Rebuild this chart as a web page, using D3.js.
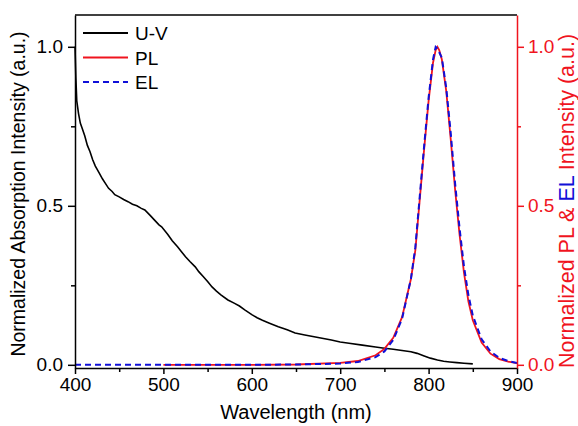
<!DOCTYPE html>
<html lang="en">
<head>
<meta charset="utf-8">
<title>Absorption, PL and EL spectra</title>
<script src="https://cdnjs.cloudflare.com/ajax/libs/d3/7.8.5/d3.min.js"></script>
<style>
  body { margin: 0; background: #fff; }
  text { font-family: "Liberation Sans", Arial, sans-serif; }
</style>
</head>
<body>
<svg id="chart" width="578" height="426"></svg>
<script>
// U-V absorption
var uvNm = [400,401,402,404,406,408,411,414,417,420,423,427,431,434,438,442,445,450,455,460,465,470,475,479,485,490,495,498,505,510,516,520,525,530,536,540,545,550,555,560,565,573,580,586,592,600,606,612,620,630,640,649,660,675,690,700,710,725,740,748,760,770,780,787,795,802,810,817,824,832,840,850];
var uvVal = [1.0,0.90,0.83,0.79,0.76,0.745,0.72,0.69,0.67,0.645,0.625,0.605,0.585,0.572,0.555,0.545,0.535,0.528,0.52,0.513,0.505,0.5,0.492,0.487,0.47,0.455,0.44,0.434,0.41,0.39,0.371,0.357,0.34,0.325,0.308,0.293,0.278,0.262,0.245,0.232,0.22,0.204,0.194,0.185,0.173,0.158,0.148,0.14,0.131,0.12,0.11,0.10,0.094,0.086,0.078,0.072,0.068,0.062,0.056,0.053,0.049,0.045,0.041,0.036,0.028,0.021,0.015,0.011,0.009,0.007,0.005,0.003];

// PL
var plNm = [500,600,650,700,720,740,750,760,770,780,785,790,795,800,805,808,810,812,815,820,825,830,835,840,845,850,860,870,880,890,900];
var plVal = [0,0,0.001,0.006,0.012,0.03,0.05,0.085,0.15,0.27,0.36,0.52,0.68,0.83,0.95,0.99,1.0,0.99,0.96,0.86,0.71,0.55,0.41,0.29,0.2,0.14,0.07,0.035,0.018,0.01,0.005];

// EL
var elNm = [400,500,600,650,700,720,740,750,760,770,780,785,790,795,800,805,808,810,815,820,825,830,835,840,845,850,860,870,880,890,900];
var elVal = [0,0,0,0.001,0.004,0.009,0.024,0.042,0.078,0.145,0.27,0.37,0.53,0.69,0.84,0.96,1.0,0.995,0.965,0.87,0.73,0.57,0.43,0.31,0.22,0.155,0.08,0.042,0.022,0.012,0.006];

var xTicks = [400,500,600,700,800,900];
var xMinor = [450,550,650,750,850];
var yTicks = [0.0,0.5,1.0];
var yMinor = [0.25,0.75];

var legendNames = ["U-V","PL","EL"];
var RED = "#f0141e", BLUE = "#1010d8";

var svg = d3.select("#chart");
var L = 75, R = 517, T = 15, B = 368;

var x = d3.scaleLinear().domain([400,900]).range([L,R]);
var y = d3.scaleLinear().domain([-0.01,1.1]).range([B,T]);

function pts(nm, v) { return nm.map(function(d,i){ return [d, v[i]]; }); }
var line = d3.line().x(function(d){ return x(d[0]); }).y(function(d){ return y(d[1]); });

// curves
svg.append("path").attr("d", line(pts(uvNm, uvVal)))
  .attr("fill","none").attr("stroke","#000").attr("stroke-width",1.6);
svg.append("path").attr("d", line(pts(plNm, plVal)))
  .attr("fill","none").attr("stroke",RED).attr("stroke-width",1.8);
svg.append("path").attr("d", line(pts(elNm, elVal)))
  .attr("fill","none").attr("stroke",BLUE).attr("stroke-width",2)
  .attr("stroke-dasharray","6,4");

// frame
svg.append("line").attr("x1",L).attr("x2",R).attr("y1",T).attr("y2",T)
  .attr("stroke","#000").attr("stroke-width",1.5);

function styleAxis(g, color, fs) {
  g.selectAll("path").attr("stroke",color).attr("stroke-width",1.5);
  g.selectAll("line").attr("stroke",color).attr("stroke-width",1.5);
  g.selectAll("text").attr("fill",color).style("font-size",fs)
    .style("font-family","'Liberation Sans', Arial, sans-serif");
}

// x axis
var gx = svg.append("g").attr("transform","translate(0,"+B+")")
  .call(d3.axisBottom(x).tickValues(xTicks).tickSize(6).tickSizeOuter(0).tickPadding(4).tickFormat(d3.format("d")));
styleAxis(gx,"#000","19px");
var gxm = svg.append("g").attr("transform","translate(0,"+B+")")
  .call(d3.axisBottom(x).tickValues(xMinor).tickSize(4).tickFormat(""));
gxm.select("path").remove();
styleAxis(gxm,"#000","19px");

// left axis
var gy = svg.append("g").attr("transform","translate("+L+",0)")
  .call(d3.axisLeft(y).tickValues(yTicks).tickSize(7).tickSizeOuter(0).tickPadding(5).tickFormat(d3.format(".1f")));
styleAxis(gy,"#000","19px");
var gym = svg.append("g").attr("transform","translate("+L+",0)")
  .call(d3.axisLeft(y).tickValues(yMinor).tickSize(4).tickFormat(""));
gym.select("path").remove();
styleAxis(gym,"#000","19px");

// right axis
var gr = svg.append("g").attr("transform","translate("+R+",0)")
  .call(d3.axisRight(y).tickValues(yTicks).tickSize(7).tickSizeOuter(0).tickPadding(4).tickFormat(d3.format(".1f")));
styleAxis(gr,RED,"19px");
var grm = svg.append("g").attr("transform","translate("+R+",0)")
  .call(d3.axisRight(y).tickValues(yMinor).tickSize(4).tickFormat(""));
grm.select("path").remove();
styleAxis(grm,RED,"19px");

// axis titles
svg.append("text").attr("x",296).attr("y",419).attr("text-anchor","middle")
  .style("font-size","20px").attr("fill","#000").text("Wavelength (nm)");

svg.append("text").attr("transform","translate(25,194) rotate(-90)")
  .attr("text-anchor","middle").style("font-size","19.5px").attr("fill","#000")
  .text("Normalized Absorption Intensity (a.u.)");

var rt = svg.append("text").attr("transform","translate(574,201) rotate(-90)")
  .attr("text-anchor","middle").style("font-size","21.5px").attr("fill",RED);
rt.append("tspan").text("Normalized PL & ");
rt.append("tspan").attr("fill",BLUE).text("EL");
rt.append("tspan").text(" Intensity (a.u.)");

// legend
var legColor = ["#000", RED, BLUE];
var leg = svg.append("g");
legendNames.forEach(function(n,i){
  var ly = 33 + i*24.5;
  leg.append("line").attr("x1",83).attr("x2",128).attr("y1",ly).attr("y2",ly)
    .attr("stroke",legColor[i]).attr("stroke-width", i==2 ? 2 : 1.8)
    .attr("stroke-dasharray", i==2 ? "6,4" : null);
  leg.append("text").attr("x",135).attr("y",ly+7).style("font-size","19px")
    .attr("fill","#000").text(n);
});
</script>
</body>
</html>
